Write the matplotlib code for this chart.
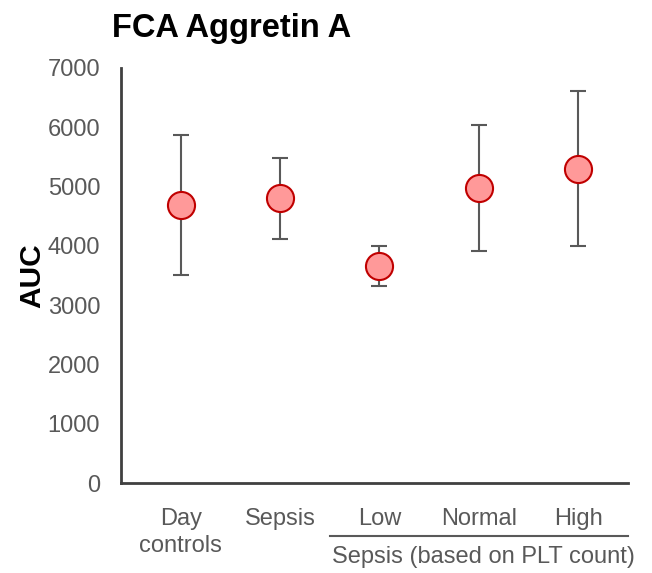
import matplotlib.pyplot as plt

plt.rcParams['font.family'] = ['Liberation Sans', 'DejaVu Sans']

# group means and error (SD) of the area under the curve
groups = ['Day\ncontrols', 'Sepsis', 'Low', 'Normal', 'High']
auc_mean = [4690, 4800, 3660, 4975, 5300]
auc_err = [1175, 690, 340, 1065, 1305]
y_ticks = [0, 1000, 2000, 3000, 4000, 5000, 6000, 7000]

fig = plt.figure(figsize=(6.52, 5.73), dpi=100)
ax = fig.add_axes([121 / 652, 90 / 573, 507 / 652, 415 / 573])

x = range(len(groups))
ax.errorbar(x, auc_mean, yerr=auc_err, fmt='none', ecolor='#595959',
            elinewidth=1.5, capsize=6, capthick=1.5, zorder=2)
ax.plot(x, auc_mean, 'o', markersize=19.5, markerfacecolor='#FF9999',
        markeredgecolor='#C00000', markeredgewidth=1.5, zorder=3)

ax.set_xlim(-0.6, 4.5)
ax.set_ylim(0, 7000)
ax.set_yticks(y_ticks)
ax.set_xticks(list(x))
ax.set_xticklabels(groups, linespacing=1.3)
ax.tick_params(axis='both', length=0, labelsize=17, labelcolor='#595959')
ax.tick_params(axis='x', pad=18)
ax.tick_params(axis='y', pad=15)

for side in ['top', 'right']:
    ax.spines[side].set_visible(False)
for side in ['left', 'bottom']:
    ax.spines[side].set_color('#404040')
    ax.spines[side].set_linewidth(2)

ax.set_ylabel('AUC', fontsize=21.5, fontweight='bold', labelpad=1)
fig.text(112 / 652, 1 - 28 / 573, 'FCA Aggretin A', fontsize=23.5,
         fontweight='bold', ha='left', va='center')

# bracket line and label for the PLT-count subgroups
ax.plot([1.5, 4.5], [-900, -900], color='#595959', linewidth=1.5,
        clip_on=False)
ax.text(3.05, -1250, 'Sepsis (based on PLT count)', fontsize=17,
        color='#595959', ha='center', va='center')

fig.savefig('out.png', dpi=100)
